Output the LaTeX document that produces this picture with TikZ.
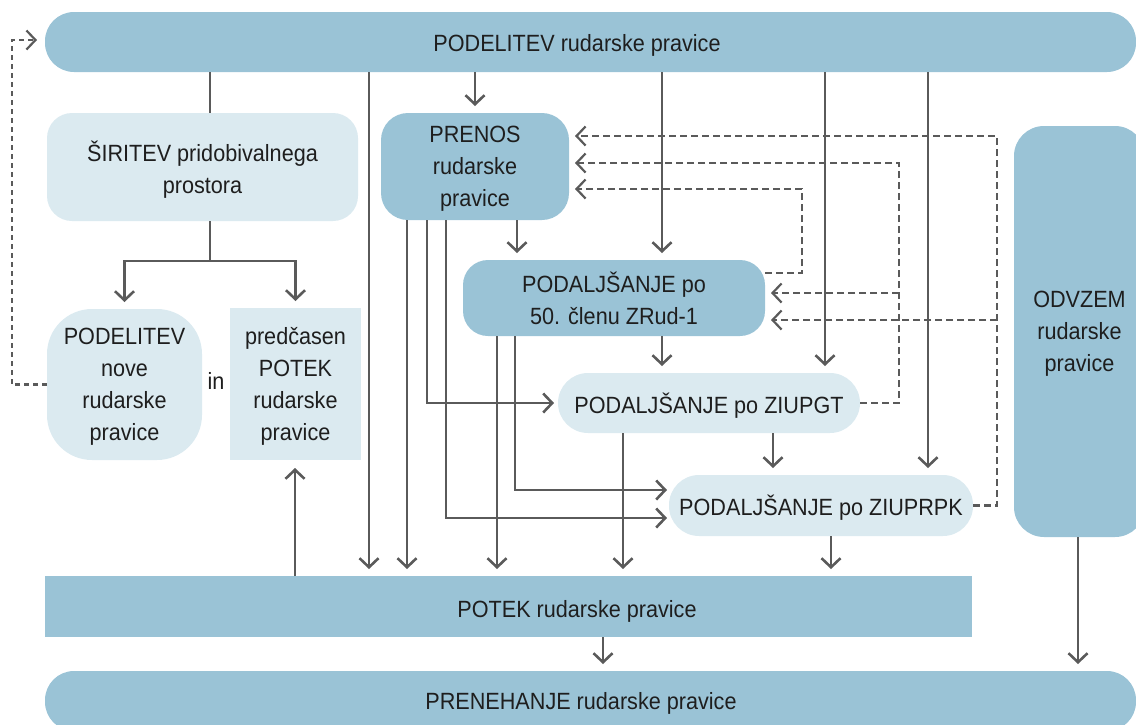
\documentclass[tikz,border=0pt]{standalone}
\usepackage{fontspec}
\setmainfont{Liberation Sans}[FakeStretch=0.92]
\usetikzlibrary{
    arrows.meta,
    calc,
    positioning
}
\definecolor{barblue}{HTML}{9AC3D6}
\definecolor{paleblue}{HTML}{DBEAF0}
\definecolor{linegray}{HTML}{5A5A5A}
\definecolor{textdark}{HTML}{1E1E1E}
\tikzset{
    every picture/.style = {
        > = {Straight Barb[length=9pt, width=19pt]},
        line width = 2.6pt
    },
    every node/.style = {
        inner sep = 0pt,
        outer sep = 0pt,
        text depth = 0pt,
        align = center,
        text = textdark,
        font = \fontsize{23.5}{32}\selectfont
    },
    darkbox/.style = {fill = barblue, rounded corners = #1},
    darkbox/.default = 27pt,
    lightbox/.style = {fill = paleblue, rounded corners = #1},
    lightbox/.default = 27pt,
    flow/.style = {draw = linegray, ->, shorten > = 7pt},
    back/.style = {draw = linegray, ->, line width = 2.2pt,
        dash pattern = on 7pt off 4pt, shorten > = 6pt}
}

\begin{document}
\begin{tikzpicture}[x = 1pt, y = -1pt]
    \useasboundingbox (0,0) rectangle (1136,724);

    % bars
    \node[darkbox = 29pt, minimum width = 1091pt, minimum height = 60pt] (podelitev) at (590.5,42) {};
    \node (podelitev-txt) at (577,42.5) {PODELITEV rudarske pravice};
    \node[darkbox = 0pt, minimum width = 927pt, minimum height = 61pt] (potek) at (508.5,606.5) {};
    \node (potek-txt) at (577,609) {POTEK rudarske pravice};
    \node[darkbox = 29pt, minimum width = 1091pt, minimum height = 60pt] (prenehanje) at (590.5,701) {};
    \node (prenehanje-txt) at (581,701) {PRENEHANJE rudarske pravice};

    % left column
    \node[lightbox = 25pt, minimum width = 311pt, minimum height = 108pt] (siritev) at (202.5,167) {ŠIRITEV pridobivalnega\\prostora};
    \node[lightbox = 45pt, minimum width = 155pt, minimum height = 151pt] (nova) at (124.5,384.5) {PODELITEV\\nove\\rudarske\\pravice};
    \node[lightbox = 0pt, minimum width = 131pt, minimum height = 152pt] (predcasen) at (295.5,384) {predčasen\\POTEK\\rudarske\\pravice};
    \node (in) at (216,381) {in};

    % middle and right
    \node[darkbox, minimum width = 188pt, minimum height = 107pt] (prenos) at (475,166.5) {PRENOS\\rudarske\\pravice};
    \node[darkbox = 25pt, minimum width = 302pt, minimum height = 76pt] (clen50) at (614,298) {PODALJŠANJE po\\50. členu ZRud-1};
    \node[lightbox = 30pt, minimum width = 302pt, minimum height = 60pt] (ziupgt) at (709,403) {PODALJŠANJE po ZIUPGT};
    \node[lightbox = 30pt, minimum width = 304pt, minimum height = 61pt] (ziuprpk) at (821,505.5) {PODALJŠANJE po ZIUPRPK};
    \node[darkbox = 30pt, minimum width = 131pt, minimum height = 411pt] (odvzem) at (1079.5,331.5) {ODVZEM\\rudarske\\pravice};

    % from the top bar
    \draw[linegray] (podelitev.south -| 210,0) -- (siritev.north -| 210,0);
    \draw[flow] (podelitev.south -| 369,0) -- (potek.north -| 369,0);
    \draw[flow] (podelitev.south -| prenos) -- (prenos.north);
    \draw[flow] (podelitev.south -| 662,0) -- (clen50.north -| 662,0);
    \draw[flow] (podelitev.south -| 825,0) -- (ziupgt.north -| 825,0);
    \draw[flow] (podelitev.south -| 928,0) -- (ziuprpk.north -| 928,0);

    % siritev splits
    \draw[linegray] (siritev.south -| 210,0) -- (210,261) coordinate (split);
    \draw[flow] (split) -| (nova.north);
    \draw[flow] (split) -| (predcasen.north);
    \draw[flow, shorten > = 8pt] (potek.north -| 295,0) -- (predcasen.south -| 295,0);

    % prenos
    \draw[flow] (prenos.south -| 517,0) -- (clen50.north -| 517,0);
    \draw[flow] (prenos.south -| 407,0) -- (potek.north -| 407,0);
    \draw[flow, shorten > = 4pt] (prenos.south -| 427,0) |- (ziupgt.west);
    \draw[flow, shorten > = 2pt] (prenos.south -| 446,0) |- (ziuprpk.west |- 0,518);

    % podaljsanje
    \draw[flow] (clen50.south -| 497,0) -- (potek.north -| 497,0);
    \draw[flow, shorten > = 2pt] (clen50.south -| 515,0) |- (ziuprpk.west |- 0,490);
    \draw[flow] (clen50.south -| 662,0) -- (ziupgt.north -| 662,0);
    \draw[flow] (ziupgt.south -| 623,0) -- (potek.north -| 623,0);
    \draw[flow] (ziupgt.south -| 773,0) -- (ziuprpk.north -| 773,0);
    \draw[flow] (ziuprpk.south -| 831,0) -- (potek.north -| 831,0);

    % to prenehanje
    \draw[flow] (potek.south -| 603,0) -- (prenehanje.north -| 603,0);
    \draw[flow] (odvzem.south -| 1078,0) -- (prenehanje.north -| 1078,0);

    % dashed returns
    \draw[back, dash pattern = on 5pt off 4pt, shorten > = 8pt] (nova.west) -| (12,40) -- (podelitev.west |- 0,40);
    \draw[back] (clen50.east |- 0,273) -| (802,189) -- (prenos.east |- 0,189);
    \draw[back] (ziupgt.east) -| (899,163) -- (prenos.east |- 0,163);
    \draw[back] (ziuprpk.east) -| (997,136) -- (prenos.east |- 0,136);
    \coordinate (gtjoin) at (899,293);
    \coordinate (rpkjoin) at (997,320);
    \draw[back] (gtjoin) -- (clen50.east |- gtjoin);
    \draw[back] (rpkjoin) -- (clen50.east |- rpkjoin);
\end{tikzpicture}
\end{document}
